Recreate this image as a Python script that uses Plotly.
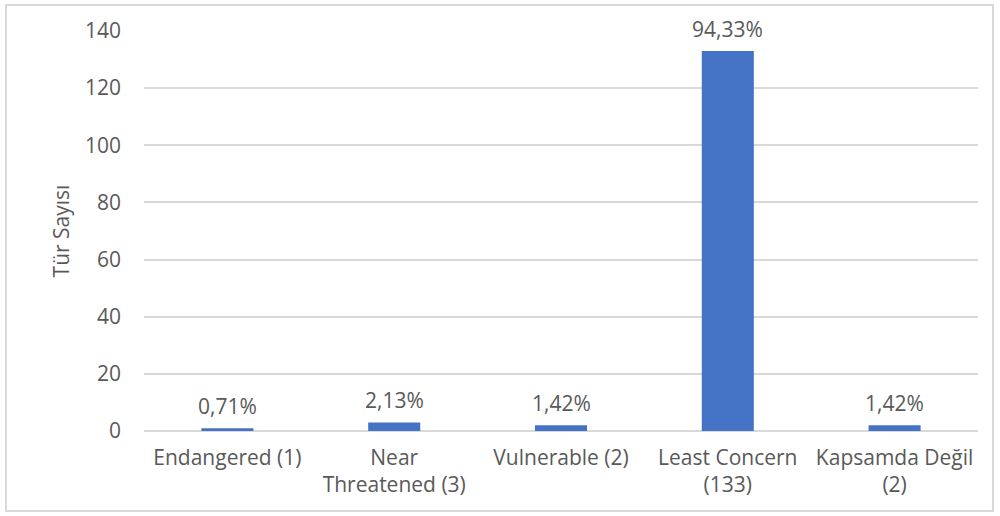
import plotly.graph_objects as go

categories = ["Endangered (1)", "Near<br>Threatened (3)", "Vulnerable (2)",
              "Least Concern<br>(133)", "Kapsamda Değil<br>(2)"]
counts = [1, 3, 2, 133, 2]
pct_labels = ["0,71%", "2,13%", "1,42%", "94,33%", "1,42%"]
y_ticks = [0, 20, 40, 60, 80, 100, 120, 140]

FONT = "Open Sans"
GRAY = "#595959"
FS = 21

fig = go.Figure(go.Bar(
    x=categories, y=counts,
    marker=dict(color="#4472C4", line=dict(width=0)),
    hoverinfo="skip",
))

for cat, val, lab in zip(categories, counts, pct_labels):
    fig.add_annotation(x=cat, y=val, text=lab, showarrow=False,
                       yanchor="bottom", yshift=6,
                       font=dict(family=FONT, size=FS, color=GRAY))

fig.update_layout(
    width=1000, height=516,
    margin=dict(l=144, r=22, t=31, b=85),
    paper_bgcolor="white", plot_bgcolor="white",
    bargap=0.688,
    showlegend=False,
    font=dict(family=FONT, color=GRAY, size=FS),
    xaxis=dict(showgrid=False, showline=False, ticks="", zeroline=False,
               automargin=False, ticklabelstandoff=12,
               tickfont=dict(family=FONT, size=FS, color=GRAY)),
    yaxis=dict(range=[0, 140], tickvals=y_ticks, showgrid=True,
               gridcolor="#D9D9D9", gridwidth=1.5, zeroline=True,
               zerolinecolor="#D9D9D9", zerolinewidth=1.5, showline=False,
               ticks="", ticklabelstandoff=22, automargin=False,
               tickfont=dict(family=FONT, size=FS, color=GRAY),
               title=dict(text="Tür Sayısı", standoff=9,
                          font=dict(family=FONT, size=FS, color=GRAY))),
)

# outer chart border
fig.add_shape(type="rect", xref="paper", yref="paper",
              x0=(6 - 144) / 834, x1=(993 - 144) / 834,
              y0=-(511 - 431) / 400, y1=(431 - 5) / 400,
              line=dict(color="#D9D9D9", width=2), fillcolor="rgba(0,0,0,0)",
              layer="below")

fig.write_html("out.html", config={"displayModeBar": False},
               post_script="document.body.style.margin='0';document.body.style.overflow='hidden';")
